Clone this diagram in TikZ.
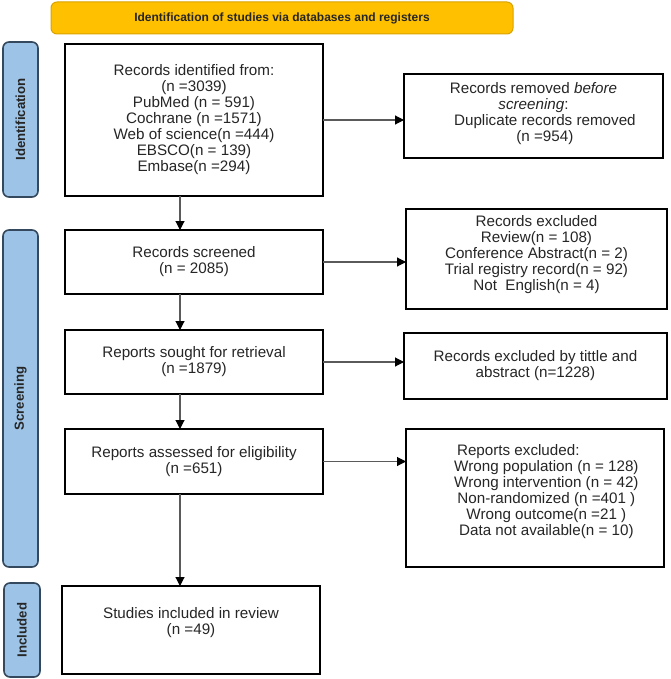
\documentclass[tikz,border=0pt]{standalone}
\usepackage{fontspec}
\setmainfont{Liberation Sans}
\usetikzlibrary{arrows.meta,calc}
\definecolor{bannerfill}{HTML}{FFC000}
\definecolor{bannerdraw}{HTML}{D9A300}
\definecolor{barfill}{HTML}{9DC3E6}
\definecolor{bardraw}{HTML}{34495E}
\definecolor{txt}{HTML}{262626}
\definecolor{arr}{HTML}{5A5A5A}
\begin{document}
\begin{tikzpicture}[x=1pt,y=-1pt,
  every node/.style={inner sep=0pt,outer sep=0pt},
  box/.style={draw=black,line width=1.8pt,fill=white,align=center,text=txt,
    font=\fontsize{15.2}{16}\selectfont},
  bar/.style={draw=bardraw,line width=1.6pt,fill=barfill,rounded corners=6pt},
  barlabel/.style={rotate=90,font=\fontsize{13.2}{15}\bfseries\selectfont,text=txt},
  flow/.style={draw=arr,line width=1.1pt,-{Triangle[length=9pt,width=9pt,color=black]}}
]
\useasboundingbox (0,0) rectangle (670,679);
% banner
\node[draw=bannerdraw,line width=1pt,fill=bannerfill,rounded corners=6pt,
  minimum width=462pt,minimum height=32pt,font=\fontsize{12}{14}\bfseries\selectfont,text=txt]
  (banner) at (282,18) {Identification of studies via databases and registers};
% side bars
\node[bar,minimum width=35pt,minimum height=155pt] (idbar) at (20.5,119.5) {};
\node[barlabel] (idlab) at (idbar.center) {Identification};
\node[bar,minimum width=35pt,minimum height=337pt] (scrbar) at (20.5,398.5) {};
\node[barlabel] (scrlab) at (scrbar.center) {Screening};
\node[bar,minimum width=36pt,minimum height=94pt] (incbar) at (22,630) {};
\node[barlabel] (inclab) at (incbar.center) {Included};
% main column
\node[box,minimum width=258pt,minimum height=152pt] (b1) at (194,120)
  {Records identified from:\\(n =3039)\\PubMed (n = 591)\\Cochrane (n =1571)\\Web of science(n =444)\\EBSCO(n = 139)\\Embase(n =294)};
\node[box,minimum width=258pt,minimum height=64pt] (b2) at (194,262)
  {Records screened\\(n = 2085)};
\node[box,minimum width=258pt,minimum height=64pt] (b3) at (194,362)
  {Reports sought for retrieval\\(n =1879)};
\node[box,minimum width=258pt,minimum height=65pt] (b4) at (194,461.5)
  {Reports assessed for eligibility\\(n =651)};
\node[box,minimum width=258pt,minimum height=88pt] (b5) at (191,630)
  {Studies included in review\\(n =49)\\[2pt]\mbox{}};
% right column
\node[box,minimum width=259pt,minimum height=84pt] (r1) at (533.5,116)
  {Records removed \textit{before}\\\textit{screening}:\\\hspace*{1.5em}Duplicate records removed\\\hspace*{1.5em}(n =954)\\[-8pt]\mbox{}};
\node[box,minimum width=261pt,minimum height=100pt] (r2) at (536.5,259)
  {Records excluded\\Review(n = 108)\\Conference Abstract(n = 2)\\Trial registry record(n = 92)\\Not~ English(n = 4)\\[-4pt]\mbox{}};
\node[box,minimum width=263pt,minimum height=66pt] (r3) at (535.5,366)
  {Records excluded by tittle and\\abstract (n=1228)};
\node[box,minimum width=258pt,minimum height=138pt] (r4) at (535,498)
  {Reports excluded:\hspace*{2.2em}\\\hspace*{1.5em}Wrong population (n = 128)\\\hspace*{1.5em}Wrong intervention (n = 42)\\\hspace*{1.5em}Non-randomized (n =401 )\\\hspace*{1.5em}Wrong outcome(n =21 )\\\hspace*{1.5em}Data not available(n = 10)\\\mbox{}};
% connectors
\coordinate (ax) at (180,0);
\draw[flow] (ax |- b1.south) -- (ax |- b2.north);
\draw[flow] (ax |- b2.south) -- (ax |- b3.north);
\draw[flow] (ax |- b3.south) -- (ax |- b4.north);
\draw[flow] (ax |- b4.south) -- (ax |- b5.north);
\draw[flow] (b1.east) -- (b1.east -| r1.west);
\draw[flow] (b2.east) -- (b2.east -| r2.west);
\draw[flow] (b3.east) -- (b3.east -| r3.west);
\draw[flow] (b4.east) -- (b4.east -| r4.west);
\end{tikzpicture}
\end{document}
